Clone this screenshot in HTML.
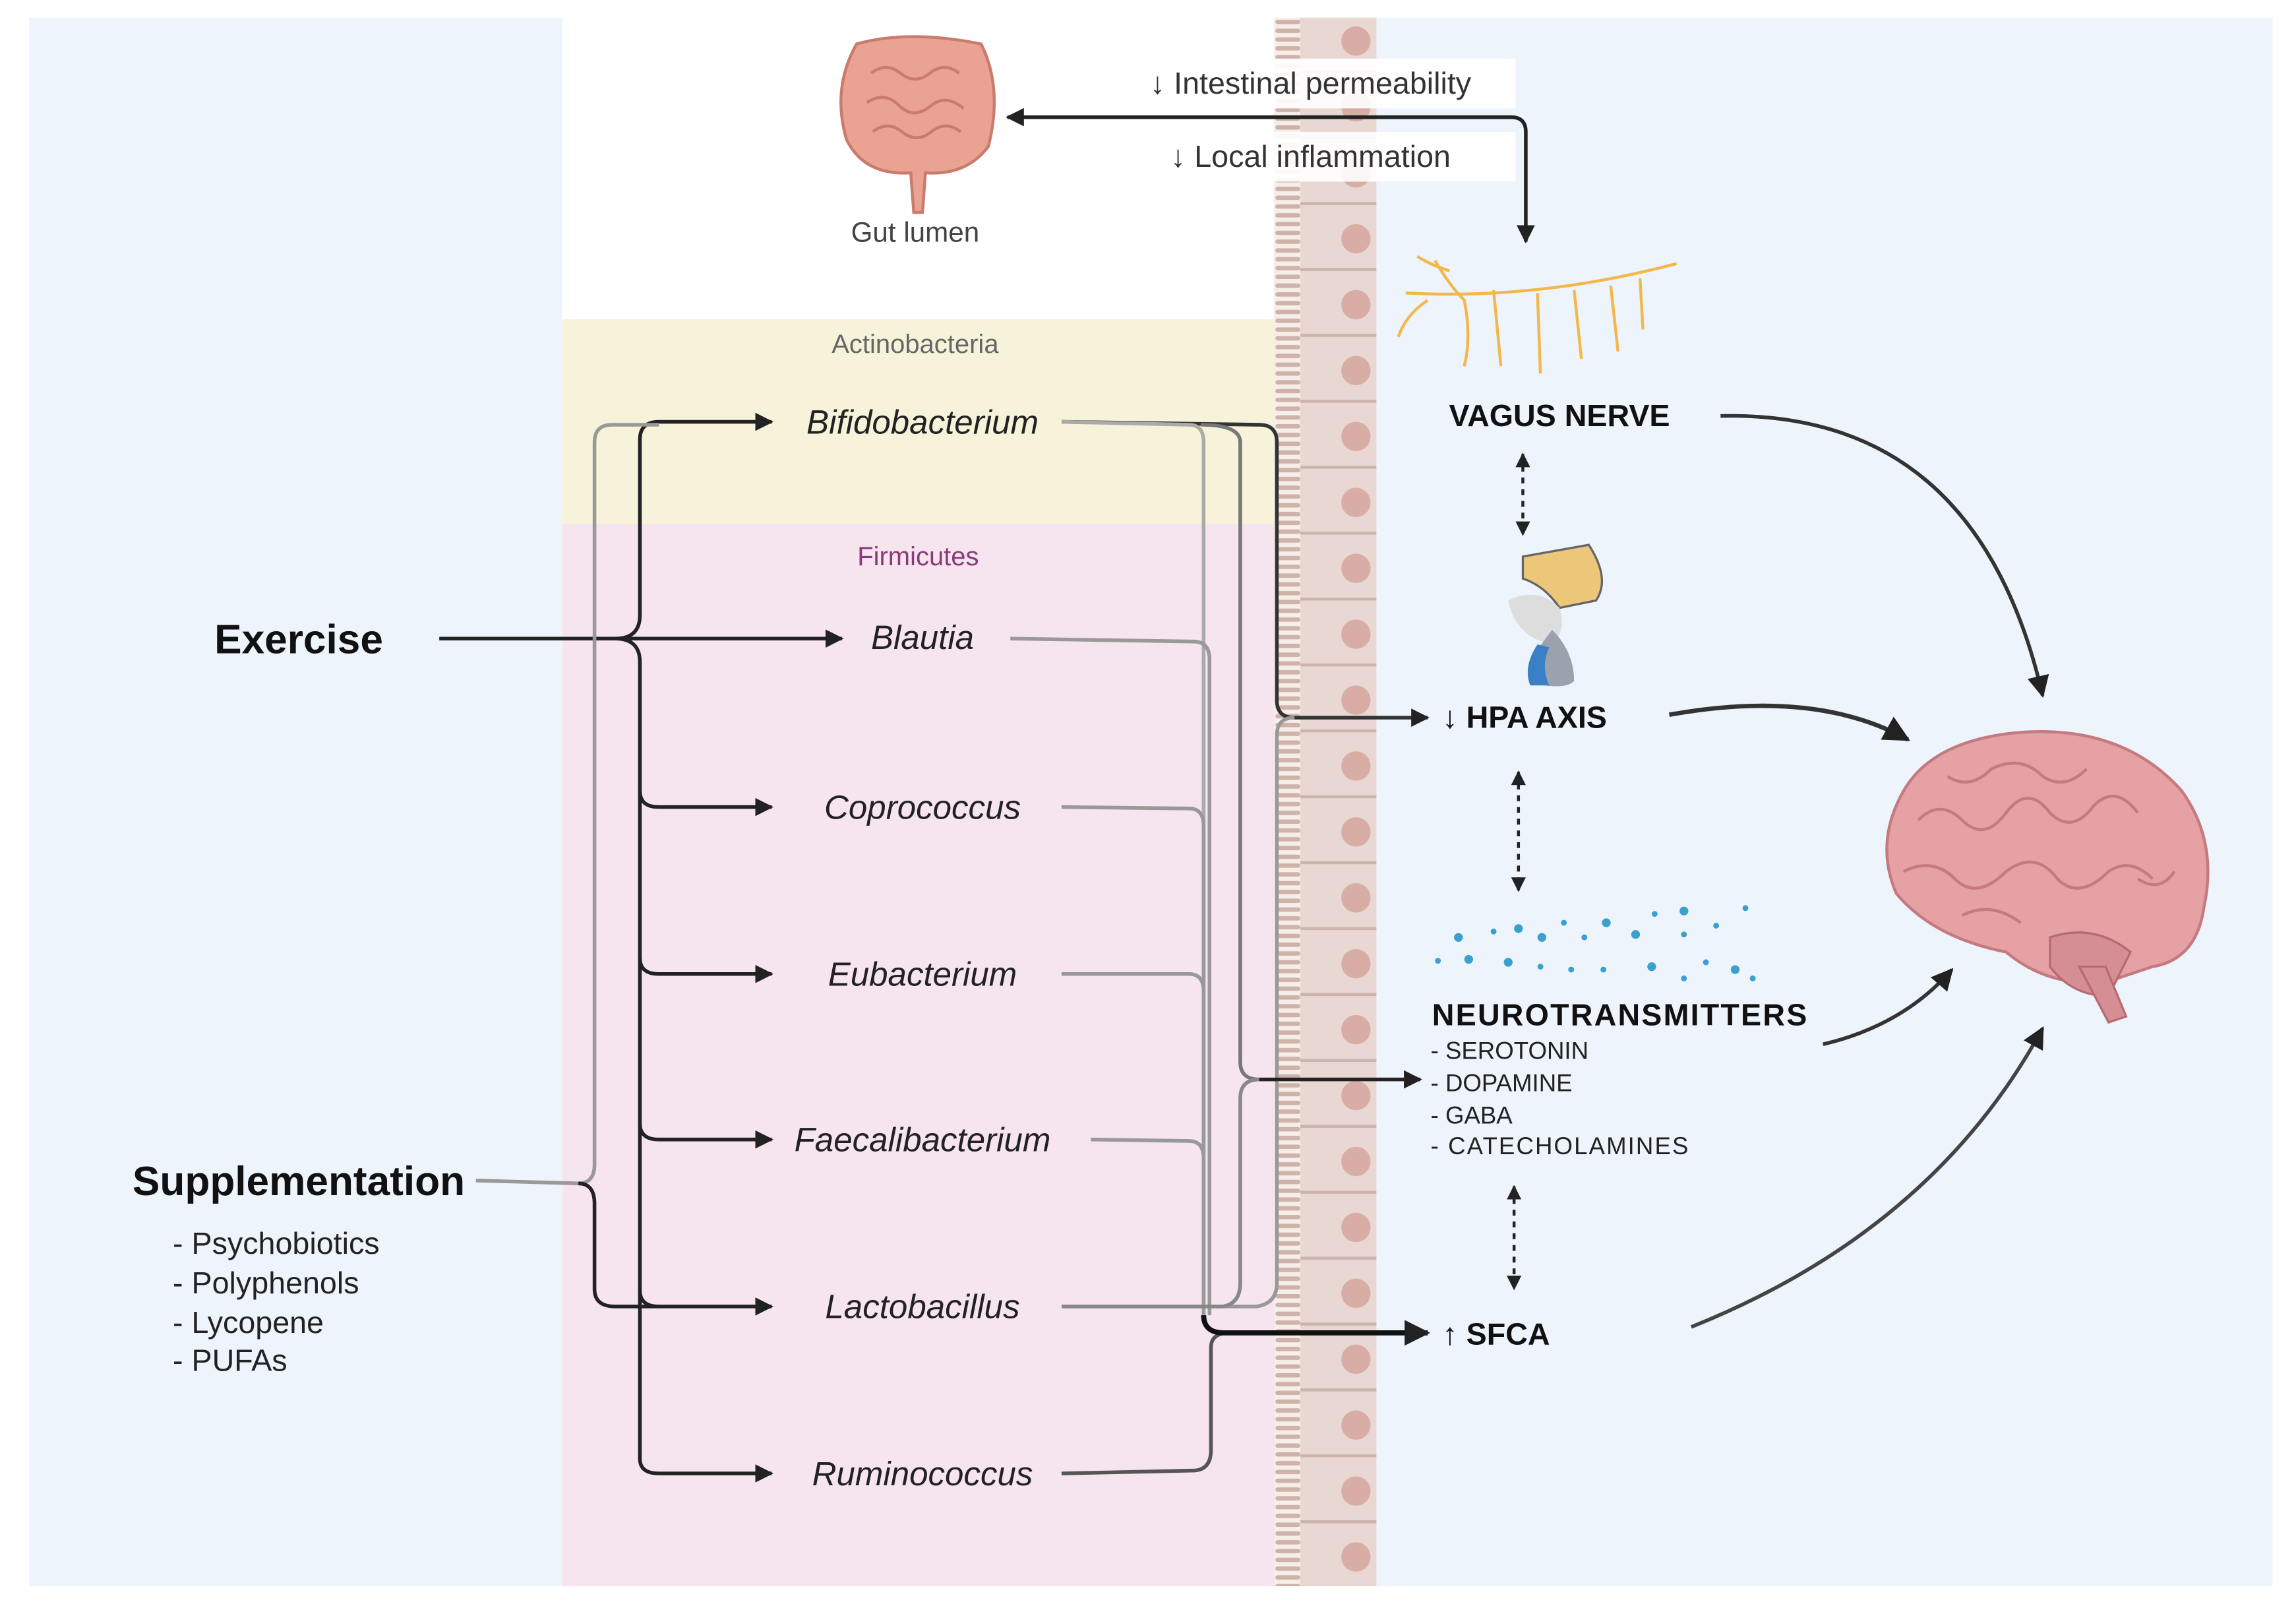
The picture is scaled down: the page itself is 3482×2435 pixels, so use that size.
<!DOCTYPE html>
<html><head><meta charset="utf-8"><style>
html,body{margin:0;padding:0;background:#fff}
svg{display:block}
text{font-family:"Liberation Sans",sans-serif}
</style></head><body>
<svg width="3482" height="2435" viewBox="0 0 1568 1096.5" xmlns="http://www.w3.org/2000/svg">
<defs>
<marker id="ah" viewBox="0 0 10 10" refX="9" refY="5" markerWidth="5" markerHeight="5" orient="auto-start-reverse"><path d="M0,0L10,5L0,10z" fill="#222"/></marker>
<marker id="as" viewBox="0 0 10 10" refX="9" refY="5" markerWidth="6" markerHeight="6" orient="auto"><path d="M0,0L10,5L0,10z" fill="#222"/></marker>
<pattern id="cells" x="888" y="5" width="52" height="45" patternUnits="userSpaceOnUse">
<rect width="52" height="45" fill="#e9d7d3"/><rect y="43" width="52" height="2" fill="#cdb3ad"/><circle cx="38" cy="23" r="10" fill="#d8ada5"/></pattern>
<pattern id="villi" x="870" y="0" width="18" height="6" patternUnits="userSpaceOnUse">
<rect width="18" height="6" fill="#f6eee9"/><rect x="1" y="1.5" width="17" height="3" rx="1.5" fill="#cfb2aa"/></pattern>
</defs>
<rect width="1568" height="1097" fill="#fff"/>
<rect x="20" y="12" width="364" height="1071" fill="#eef4fb"/>
<rect x="940" y="12" width="612" height="1071" fill="#eef4fb"/>
<rect x="384" y="218" width="486" height="140" fill="#f7f3da"/>
<rect x="384" y="358" width="486" height="725" fill="#f6e4ee"/>
<rect x="870" y="12" width="18" height="1071" fill="url(#villi)"/>
<rect x="888" y="12" width="52" height="1071" fill="url(#cells)"/>
<rect x="770" y="40" width="265" height="34" fill="#fff" opacity="0.9"/>
<rect x="780" y="90" width="255" height="34" fill="#fff" opacity="0.9"/>

<g>
<path d="M585,30 Q620,20 670,30 Q685,60 675,100 Q660,120 632,118 L630,145 L624,145 L622,118 Q590,120 578,95 Q568,60 585,30z" fill="#eaa293" stroke="#c97b6d" stroke-width="2"/>
<path d="M595,50 q10,-8 20,0 q10,8 20,0 q10,-8 20,0 M592,70 q12,-8 22,2 q10,10 22,0 q10,-8 22,2 M596,90 q10,-8 20,0 q10,8 20,0 q10,-8 20,0" fill="none" stroke="#c97b6d" stroke-width="2"/>
</g>
<text x="625" y="165" font-size="19" fill="#444" text-anchor="middle">Gut lumen</text>
<text x="895" y="64" font-size="21" fill="#333" text-anchor="middle">↓ Intestinal permeability</text>
<text x="895" y="114" font-size="21" fill="#333" text-anchor="middle">↓ Local inflammation</text>
<path d="M1042,165 L1042,90 Q1042,80 1032,80 L688,80" fill="none" stroke="#222" stroke-width="2.5" marker-end="url(#ah)" marker-start="url(#ah)"/>

<g stroke="#f2b84b" stroke-width="2" fill="none">
<path d="M960,200 Q1050,205 1145,180"/>
<path d="M980,178 Q990,195 1000,205 Q1005,230 1000,250"/>
<path d="M1020,198 L1025,250 M1050,200 L1052,255 M1075,198 L1080,245 M1100,195 L1105,240 M1120,190 L1122,225 M975,205 Q960,215 955,230 M990,185 Q975,180 968,175"/>
</g>
<text x="1065" y="291" font-size="21" font-weight="bold" fill="#111" text-anchor="middle">VAGUS NERVE</text>
<line x1="1040" y1="310" x2="1040" y2="365" stroke="#222" stroke-width="2" stroke-dasharray="4,4" marker-end="url(#ah)" marker-start="url(#ah)"/>
<path d="M1040,380 L1085,372 Q1100,395 1090,410 L1065,415 Q1055,400 1040,395z" fill="#ecc77a" stroke="#666" stroke-width="1.5"/>
<path d="M1030,410 Q1050,400 1065,415 Q1070,430 1060,440 Q1035,435 1030,410z" fill="#ddd"/>
<path d="M1060,430 Q1075,445 1075,465 Q1070,470 1055,468 Q1040,465 1045,450z" fill="#9aa3ad"/>
<path d="M1050,440 Q1040,455 1045,468 L1058,468 Q1052,455 1058,442z" fill="#3a7ec6"/>
<text x="985" y="497" font-size="21" font-weight="bold" fill="#111">↓ HPA AXIS</text>
<line x1="1037" y1="527" x2="1037" y2="608" stroke="#222" stroke-width="2" stroke-dasharray="4,4" marker-end="url(#ah)" marker-start="url(#ah)"/>
<g fill="#3aa0d0">
<circle cx="996" cy="640" r="3"/><circle cx="1020" cy="636" r="2"/><circle cx="1037" cy="634" r="3"/><circle cx="1053" cy="640" r="3"/><circle cx="1068" cy="630" r="2"/><circle cx="1082" cy="640" r="2"/><circle cx="1097" cy="630" r="3"/><circle cx="1117" cy="638" r="3"/><circle cx="1130" cy="624" r="2"/><circle cx="1150" cy="622" r="3"/><circle cx="1150" cy="638" r="2"/><circle cx="1172" cy="632" r="2"/><circle cx="1192" cy="620" r="2"/>
<circle cx="982" cy="656" r="2"/><circle cx="1003" cy="655" r="3"/><circle cx="1030" cy="657" r="3"/><circle cx="1052" cy="660" r="2"/><circle cx="1073" cy="662" r="2"/><circle cx="1095" cy="662" r="2"/><circle cx="1128" cy="660" r="3"/><circle cx="1150" cy="668" r="2"/><circle cx="1165" cy="657" r="2"/><circle cx="1185" cy="662" r="3"/><circle cx="1197" cy="668" r="2"/>
</g>
<text x="978" y="700" font-size="21" font-weight="bold" fill="#111" textLength="256">NEUROTRANSMITTERS</text>
<g font-size="16.5" fill="#222">
<text x="977" y="723">- SEROTONIN</text><text x="977" y="745">- DOPAMINE</text><text x="977" y="767">- GABA</text><text x="977" y="788" textLength="176">- CATECHOLAMINES</text>
</g>
<line x1="1034" y1="810" x2="1034" y2="880" stroke="#222" stroke-width="2" stroke-dasharray="4,4" marker-end="url(#ah)" marker-start="url(#ah)"/>
<text x="985" y="918" font-size="21" font-weight="bold" fill="#111">↑ SFCA</text>

<g>
<path d="M1300,540 Q1320,505 1380,500 Q1450,495 1490,540 Q1515,575 1505,620 Q1500,655 1470,660 L1440,670 Q1400,675 1370,650 Q1320,640 1295,610 Q1280,575 1300,540z" fill="#e6a1a4" stroke="#c47a80" stroke-width="2"/>
<path d="M1400,640 Q1430,630 1455,650 L1440,680 Q1415,680 1400,660z" fill="#d58e94" stroke="#b86a72" stroke-width="1.5"/>
<path d="M1420,660 L1440,698 L1452,694 L1438,660z" fill="#d58e94" stroke="#b86a72" stroke-width="1.5"/>
<path d="M1310,560 q15,-15 30,0 q15,15 30,-5 q15,-20 30,0 q15,15 30,-5 q15,-15 30,5 M1300,595 q20,-10 35,5 q15,15 35,-5 q20,-15 35,5 q15,15 35,-5 q15,-10 30,5 M1330,530 q15,10 30,-5 q20,-10 35,5 q15,10 30,-5 M1340,625 q20,-10 40,5 M1460,600 q15,10 25,-5" fill="none" stroke="#c47a80" stroke-width="2"/>
</g>
<path d="M1175,284 Q1350,280 1395,475" fill="none" stroke="#333" stroke-width="2.5" marker-end="url(#as)"/>
<path d="M1140,488 Q1240,470 1303,505" fill="none" stroke="#333" stroke-width="3" marker-end="url(#as)"/>
<path d="M1245,713 Q1300,700 1333,662" fill="none" stroke="#333" stroke-width="2.5" marker-end="url(#as)"/>
<path d="M1155,906 Q1320,840 1395,702" fill="none" stroke="#444" stroke-width="2.5" marker-end="url(#as)"/>

<text x="625" y="241" font-size="18" fill="#666" text-anchor="middle">Actinobacteria</text>
<text x="627" y="386" font-size="18" fill="#8a3a78" text-anchor="middle">Firmicutes</text>

<text x="204" y="446" font-size="28" font-weight="bold" fill="#111" text-anchor="middle">Exercise</text>
<text x="204" y="816" font-size="28" font-weight="bold" fill="#111" text-anchor="middle">Supplementation</text>
<g font-size="21" fill="#222">
<text x="118" y="856">- Psychobiotics</text><text x="118" y="883">- Polyphenols</text><text x="118" y="910">- Lycopene</text><text x="118" y="936">- PUFAs</text>
</g>

<g font-size="23" font-style="italic" fill="#222" text-anchor="middle">
<text x="630" y="296">Bifidobacterium</text>
<text x="630" y="443">Blautia</text>
<text x="630" y="559">Coprococcus</text>
<text x="630" y="673">Eubacterium</text>
<text x="630" y="786">Faecalibacterium</text>
<text x="630" y="900">Lactobacillus</text>
<text x="630" y="1014">Ruminococcus</text>
</g>

<g fill="none" stroke="#222" stroke-width="2.5">
<path d="M300,436 L575,436" marker-end="url(#ah)"/>
<path d="M420,436 Q437,436 437,420 L437,300 Q437,288 450,288 L527,288" marker-end="url(#ah)"/>
<path d="M420,436 Q437,436 437,452 L437,996 Q437,1006 450,1006 L527,1006" marker-end="url(#ah)"/>
<path d="M437,540 Q437,551 450,551 L527,551" marker-end="url(#ah)"/>
<path d="M437,654 Q437,665 450,665 L527,665" marker-end="url(#ah)"/>
<path d="M437,767 Q437,778 450,778 L527,778" marker-end="url(#ah)"/>
<path d="M437,881 Q437,892 450,892 L527,892" marker-end="url(#ah)"/>
</g>
<g fill="none" stroke-width="2.5">
<path d="M325,806 L395,808 Q406,808 406,795 L406,302 Q406,290 418,290 L450,290" stroke="#999"/>
<path d="M395,808 Q406,808 406,822 L406,880 Q406,892 420,892 L450,892" stroke="#222"/>
</g>
<g fill="none" stroke-width="2.5">
<path d="M725,288 L860,290 Q872,290 872,302 L872,478 Q872,490 884,490 L975,490" stroke="#333" marker-end="url(#ah)"/>
<path d="M725,288 L812,290 Q822,290 822,302 L822,898 Q822,910 834,910" stroke="#aaa"/>
<path d="M820,290 Q847,290 847,302 L847,725 Q847,737 860,737" stroke="#777"/>
<path d="M690,436 L815,438 Q826,438 826,450 L826,898" stroke="#999"/>
<path d="M725,551 L812,552 Q822,552 822,564 L822,898" stroke="#999"/>
<path d="M725,665 L812,665 Q822,665 822,677" stroke="#999"/>
<path d="M745,778 L812,779 Q822,779 822,791" stroke="#999"/>
<path d="M725,892 L858,892 Q872,890 872,876 L872,502 Q872,490 884,490" stroke="#999"/>
<path d="M725,892 L835,892 Q847,890 847,876 L847,750 Q847,737 860,737" stroke="#888"/>
<path d="M725,1006 L816,1004 Q827,1003 827,990 L827,920 Q827,910 840,910" stroke="#555"/>
<path d="M822,898 Q822,910 836,910 L975,910" stroke="#111" stroke-width="3.5" marker-end="url(#ah)"/>
<path d="M860,737 L970,737" stroke="#222" marker-end="url(#ah)"/>
</g>
</svg>
</body></html>
